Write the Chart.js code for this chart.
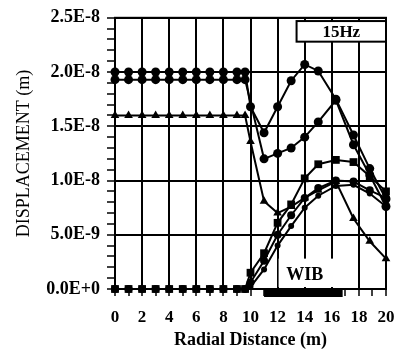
<!DOCTYPE html>
<html>
<head>
<meta charset="utf-8">
<script src="https://cdn.jsdelivr.net/npm/chart.js@4.4.1/dist/chart.umd.min.js"></script>
<style>
  html, body { margin: 0; padding: 0; background: #fff; }
</style>
</head>
<body>
<canvas id="chart" width="407" height="353"></canvas>
<script>
// radial positions (m): inside the barrier zone, then across and past it
const flatX = [0, 1, 2, 3, 4, 5, 6, 7, 8, 9, 9.6];
const outerX = [10, 11, 12, 13, 14, 15, 16.3, 17.6, 18.8, 20];
const radialDistance = flatX.concat(outerX);

// displacement amplitudes, in units of 1e-9 m
const upperCircles = [20, 20, 20, 20, 20, 20, 20, 20, 20, 20, 20, 16.8, 14.4, 16.8, 19.2, 20.7, 20.1, 17.5, 14.2, 11.1, 8.3];
const lowerCircles = [19.3, 19.3, 19.3, 19.3, 19.3, 19.3, 19.3, 19.3, 19.3, 19.3, 19.3, null, 12.0, 12.5, 13.0, 14.0, 15.4, 17.4, 13.3, 10.5, 7.6];
const triangles = [16, 16, 16, 16, 16, 16, 16, 16, 16, 16, 16, 13.6, 8.1, 7.0, 7.6, 8.4, 9.1, 9.9, 6.5, 4.4, 2.8];
const squares = [0, 0, 0, 0, 0, 0, 0, 0, 0, 0, 0, 1.5, 3.3, 6.1, 7.8, 10.2, 11.5, 11.9, 11.7, 10.4, 9.0];
const baseCircles = [0, 0, 0, 0, 0, 0, 0, 0, 0, 0, 0, 0.6, 2.6, 5.0, 6.8, 8.4, 9.3, 10.0, 9.9, 9.1, 8.4];
const baseSmall = [0, 0, 0, 0, 0, 0, 0, 0, 0, 0, 0, 0.2, 1.8, 4.0, 5.8, 7.5, 8.6, 9.5, 9.6, 8.8, 7.6];

const frequencyLabel = '15Hz';
const barrierLabel = 'WIB';
const barrierSpan = [11, 16.8];

const serif = '"Liberation Serif", "DejaVu Serif", serif';
Chart.defaults.font.family = serif;
Chart.defaults.color = '#000';

function points(ys) {
  return radialDistance.map((x, i) => ({ x: x, y: ys[i] }));
}

function series(ys, style, radius) {
  return {
    data: points(ys),
    borderColor: '#000',
    borderWidth: 2,
    backgroundColor: '#000',
    pointStyle: style,
    pointRadius: radius,
    pointBorderWidth: 0,
    spanGaps: true,
    clip: false,
  };
}

// 1.0E-8 style labels
function sci(nm) {
  if (nm === 0) return '0.0E+0';
  const m = nm * 1e-9;
  const e = Math.floor(Math.log10(m) + 1e-9);
  return (m / Math.pow(10, e)).toFixed(1) + 'E' + e;
}

const overlays = {
  id: 'overlays',
  beforeDatasetsDraw(chart) {
    const { ctx, scales: { x, y } } = chart;
    // blank panel holding the barrier label
    const l = x.getPixelForValue(12) + 1;
    const r = x.getPixelForValue(17.5);
    const t = y.getPixelForValue(2.8);
    const b = y.getPixelForValue(0) - 2;
    ctx.save();
    ctx.fillStyle = '#fff';
    ctx.fillRect(l, t, r - l, b - t);
    ctx.fillStyle = '#000';
    ctx.font = 'bold 18px ' + serif;
    ctx.textAlign = 'center';
    ctx.textBaseline = 'middle';
    ctx.fillText(barrierLabel, x.getPixelForValue(14), y.getPixelForValue(1.3));
    ctx.restore();
  },
  afterDraw(chart) {
    const { ctx, chartArea: a, scales: { x, y } } = chart;
    ctx.save();
    ctx.strokeStyle = '#000';
    ctx.lineWidth = 2;
    ctx.strokeRect(a.left, a.top, a.right - a.left, a.bottom - a.top);

    // barrier extent along the surface
    const y0 = y.getPixelForValue(0);
    ctx.fillStyle = '#000';
    ctx.fillRect(x.getPixelForValue(barrierSpan[0]), y0, x.getPixelForValue(barrierSpan[1]) - x.getPixelForValue(barrierSpan[0]), 8);

    // frequency tag
    const bl = x.getPixelForValue(13.4);
    const bt = y.getPixelForValue(24.7);
    const bb = y.getPixelForValue(22.8);
    ctx.fillStyle = '#fff';
    ctx.fillRect(bl, bt, a.right - bl, bb - bt);
    ctx.strokeRect(bl, bt, a.right - bl, bb - bt);
    ctx.fillStyle = '#000';
    ctx.font = 'bold 17px ' + serif;
    ctx.textAlign = 'center';
    ctx.textBaseline = 'middle';
    ctx.fillText(frequencyLabel, (bl + a.right) / 2, (bt + bb) / 2 + 1);
    ctx.restore();
  }
};

new Chart(document.getElementById('chart'), {
  type: 'line',
  data: {
    datasets: [
      series(upperCircles, 'circle', 4.5),
      series(lowerCircles, 'circle', 4.5),
      series(triangles, 'triangle', 5),
      series(squares, 'rect', 5.5),
      series(baseCircles, 'circle', 4),
      series(baseSmall, 'circle', 3),
    ],
  },
  options: {
    responsive: false,
    animation: false,
    layout: { padding: { top: 15, right: 21, left: 0, bottom: 0 } },
    plugins: { legend: { display: false }, tooltip: { enabled: false } },
    scales: {
      x: {
        type: 'linear',
        min: 0,
        max: 20,
        ticks: {
          stepSize: 1,
          autoSkip: false,
          maxRotation: 0,
          padding: 11,
          font: { size: 17, weight: 'bold' },
          callback: v => (v % 2 === 0 ? String(v) : ''),
        },
        grid: {
          color: c => (c.tick && c.tick.value % 2 === 0 ? '#000' : 'rgba(0,0,0,0)'),
          tickColor: '#000',
          lineWidth: 2,
          tickWidth: 1.5,
          tickLength: 7,
        },
        border: { color: '#000', width: 2 },
        title: {
          display: true,
          text: 'Radial Distance (m)',
          font: { size: 18, weight: 'bold' },
          padding: { top: 0, bottom: 2 },
        },
        afterFit: s => { s.height = 64; },
      },
      y: {
        min: 0,
        max: 25,
        ticks: {
          stepSize: 1,
          autoSkip: false,
          padding: 7,
          font: { size: 18, weight: 'bold' },
          callback: v => (v % 5 === 0 ? sci(v) : ''),
        },
        grid: {
          color: c => (c.tick && c.tick.value % 5 === 0 ? '#000' : 'rgba(0,0,0,0)'),
          tickColor: '#000',
          lineWidth: 2,
          tickWidth: 1.5,
          tickLength: 8,
        },
        border: { color: '#000', width: 2 },
        title: {
          display: true,
          text: 'DISPLACEMENT (m)',
          font: { size: 18 },
          padding: { top: 13, bottom: 0 },
        },
        afterFit: s => { s.width = 115; },
      },
    },
  },
  plugins: [overlays],
});
</script>
</body>
</html>
